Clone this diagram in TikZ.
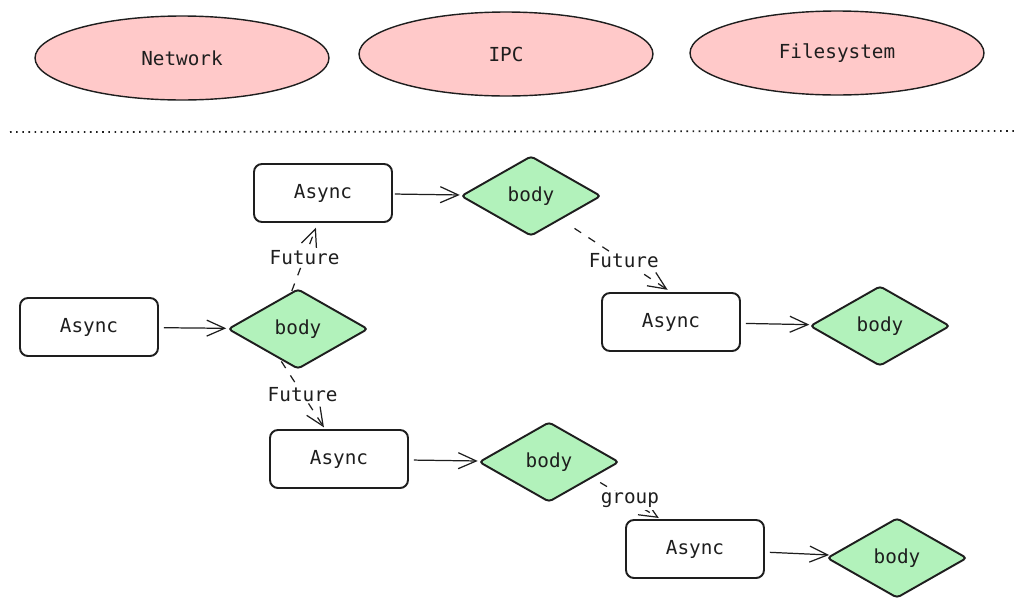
\documentclass[tikz,border=0pt]{standalone}
\usepackage{fontspec}
\setmonofont{DejaVu Sans Mono}
\usetikzlibrary{arrows.meta,shapes.geometric}
\definecolor{ink}{HTML}{1E1E1E}
\definecolor{pinkfill}{HTML}{FFC9C9}
\definecolor{greenfill}{HTML}{B2F2BB}
\tikzset{
  srcbox/.style={ellipse,draw=ink,line width=0.8pt,fill=pinkfill,minimum width=5.88cm,minimum height=1.68cm,font=\ttfamily\fontsize{11}{13}\selectfont,text=ink},
  asyncbox/.style={rectangle,rounded corners=4.5pt,draw=ink,line width=1.1pt,fill=white,minimum width=2.76cm,minimum height=1.16cm,font=\ttfamily\fontsize{11}{13}\selectfont,text=ink},
  bodybox/.style={diamond,rounded corners=2pt,draw=ink,line width=1.1pt,fill=greenfill,minimum width=2.8cm,minimum height=1.6cm,inner sep=0pt,font=\ttfamily\fontsize{11}{13}\selectfont,text=ink},
  edgelabel/.style={fill=white,inner sep=1pt,font=\ttfamily\fontsize{11}{13}\selectfont,text=ink},
  arrow/.style={-{Straight Barb[length=3.6mm,width=3.2mm]},line width=0.7pt,draw=ink,shorten <=0.1cm,shorten >=0.04cm},
  dasharrow/.style={arrow,dash pattern=on 4.5pt off 5pt}
}
\begin{document}
\begin{tikzpicture}[x=0.02cm,y=-0.02cm]
  \useasboundingbox (0,0) rectangle (1025,609);

  % sources
  \node[srcbox] (net) at (182,58) {Network};
  \node[srcbox] (ipc) at (506,54) {IPC};
  \node[srcbox] (fs) at (837,53) {Filesystem};

  % separator
  \coordinate (sepL) at (10,132);
  \coordinate (sepR) at (1015,131);
  \draw[ink,line width=1pt,dash pattern=on 0.9pt off 2.6pt] (sepL) -- (sepR);

  % async tasks and their bodies
  \node[asyncbox] (a1) at (89,327) {Async};
  \node[bodybox] (d1) at (298,329) {body};
  \node[asyncbox] (a2) at (323,193) {Async};
  \node[bodybox] (d2) at (531,196) {body};
  \node[asyncbox] (a3) at (671,322) {Async};
  \node[bodybox] (d3) at (880,326) {body};
  \node[asyncbox] (a4) at (339,459) {Async};
  \node[bodybox] (d4) at (549,462) {body};
  \node[asyncbox] (a5) at (695,549) {Async};
  \node[bodybox] (d5) at (897,558) {body};

  \draw[arrow] (a1) -- (d1);
  \draw[arrow,shorten <=0.04cm] (a2) -- (d2);
  \draw[arrow] (a3) -- (d3);
  \draw[arrow] (a4) -- (d4);
  \draw[arrow] (a5) -- (d5);

  \draw[dasharrow,shorten <=0.02cm,shorten >=0.1cm] (d1.100) -- node[edgelabel]{Future} (a2.260);
  \draw[dasharrow,shorten <=0.04cm] (d1.240) -- node[edgelabel]{Future} (a4.115);
  \draw[dasharrow,shorten <=0.32cm,shorten >=0.08cm] (d2.322) -- node[edgelabel,pos=0.57]{Future} (a3.north);
  \draw[dasharrow,shorten <=0.18cm] (d4.340) -- node[edgelabel,pos=0.55]{group} (a5.139);
\end{tikzpicture}
\end{document}
